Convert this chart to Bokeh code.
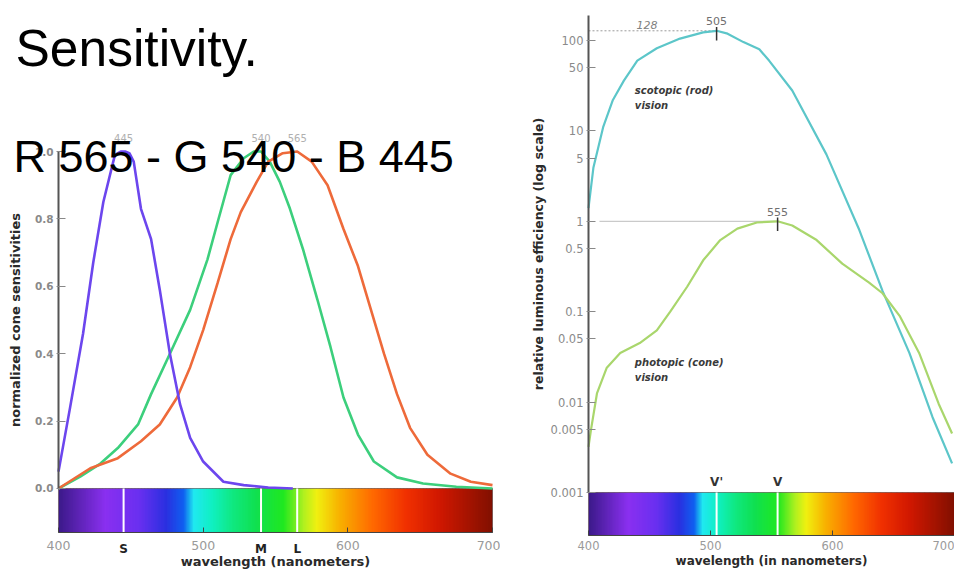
import numpy as np
from bokeh.plotting import figure
from bokeh.layouts import row
from bokeh.models import Range1d, Label, FixedTicker
from bokeh.embed import file_html
from bokeh.resources import INLINE

# ---------------- data: left chart (normalized cone sensitivities) ----------------
s_wl = [400, 408, 417, 424, 431, 439, 443, 446, 449, 452, 457, 464, 470, 477, 484, 491, 500, 514, 528, 545, 562]
s_val = [0.05, 0.24, 0.46, 0.67, 0.85, 0.99, 1.0, 1.0, 0.995, 0.97, 0.83, 0.74, 0.59, 0.40, 0.25, 0.15, 0.08, 0.02, 0.01, 0.003, 0.0]

m_wl = [400, 415, 429, 441, 455, 464, 477, 491, 503, 510, 519, 528, 535, 540, 546, 553, 560, 569, 579, 588, 597, 607, 618, 634, 652, 675, 700]
m_val = [0.0, 0.035, 0.074, 0.12, 0.19, 0.28, 0.40, 0.53, 0.68, 0.79, 0.93, 0.98, 1.0, 1.0, 0.97, 0.91, 0.83, 0.71, 0.56, 0.42, 0.27, 0.16, 0.08, 0.033, 0.015, 0.005, 0.0]

l_wl = [400, 422, 441, 457, 470, 482, 491, 500, 510, 519, 526, 537, 545, 555, 565, 575, 586, 597, 607, 616, 625, 634, 643, 655, 671, 685, 700]
l_val = [0.0, 0.06, 0.09, 0.14, 0.19, 0.27, 0.36, 0.47, 0.61, 0.74, 0.82, 0.91, 0.97, 0.995, 1.0, 0.97, 0.90, 0.77, 0.66, 0.53, 0.40, 0.28, 0.18, 0.10, 0.044, 0.02, 0.01]

cone_ticks = [0.0, 0.2, 0.4, 0.6, 0.8, 1.0]
cone_tick_labels = ["0.0", "0.2", "0.4", "0.6", "0.8", "1.0"]
cone_peaks = [445, 540, 565]
cone_names = ["S", "M", "L"]
wl_ticks = [400, 500, 600, 700]

# ---------------- data: right chart (relative luminous efficiency) ----------------
rod_wl = [400, 404, 412, 420, 429, 440, 456, 475, 494, 505, 514, 527, 540, 548, 567, 595, 622, 641, 663, 682, 698]
rod_val = [1.4, 3.9, 11, 22, 36, 60, 82, 105, 123, 128, 119, 96, 80, 60, 28, 5.5, 0.8, 0.17, 0.035, 0.0068, 0.0021]

pho_wl = [400, 402, 407, 415, 426, 442, 456, 467, 481, 494, 508, 522, 538, 555, 567, 587, 608, 630, 641, 655, 671, 687, 698]
pho_val = [0.0032, 0.0049, 0.0126, 0.024, 0.035, 0.045, 0.062, 0.10, 0.19, 0.37, 0.62, 0.83, 0.97, 1.0, 0.9, 0.62, 0.34, 0.21, 0.16, 0.09, 0.035, 0.0096, 0.0045]

lum_ticks = [0.001, 0.005, 0.01, 0.05, 0.1, 0.5, 1, 5, 10, 50, 100]
lum_tick_labels = ["0.001", "0.005", "0.01", "0.05", "0.1", "0.5", "1", "5", "10", "50", "100"]
lum_peak_wl = [505, 555]
lum_peak_val = [128, 1.0]
lum_names = ["V'", "V"]

# spectrum colour stops (wavelength, colour)
spec_wl = [400, 432, 455, 474, 486, 493, 506, 520, 536, 555, 569, 578, 594, 617, 640, 663, 700]
spec_col = ["#3c1a8a", "#8a30f0", "#6a30f0", "#2a30e0", "#1060f0", "#20e8f0", "#10f0c0", "#10e880",
            "#10e050", "#20e820", "#b0f020", "#f0f010", "#f8b000", "#ff6800", "#f03000", "#d01800", "#801000"]

DV = "DejaVu Sans"

# layout (ranges chosen so the frame fills each canvas; axes are pinned with fixed_location)
LEFT_BAR_BOTTOM = -0.1306
RIGHT_BAR_BOTTOM = 10 ** -3.4757


def spectrum_colours(grid):
    rgb = np.array([[int(c[i:i + 2], 16) for i in (1, 3, 5)] for c in spec_col], dtype=float)
    out = []
    for w in grid:
        r, g, b = (int(round(np.interp(w, spec_wl, rgb[:, k]))) for k in range(3))
        out.append("#%02x%02x%02x" % (r, g, b))
    return out


def draw_spectrum(p, bottom, top, marks):
    grid = np.arange(400, 700, 1.0)
    cols = spectrum_colours(grid)
    p.quad(left=grid, right=np.minimum(grid + 1.8, 700), bottom=bottom, top=top,
           fill_color=cols, line_color=None)
    p.quad(left=[400], right=[700], bottom=[bottom], top=[top], fill_color=None,
           line_color="#5a4a4a", line_alpha=0.6, line_width=1)
    p.segment(x0=marks, x1=marks, y0=[bottom] * len(marks), y1=[top] * len(marks),
              line_color="white", line_width=2)


def style_xaxis(ax, loc, label, label_size, tick_size, tick_standoff):
    ax.fixed_location = loc
    ax.ticker = FixedTicker(ticks=wl_ticks)
    ax.bounds = (400, 700)
    ax.major_tick_in = 5
    ax.major_tick_out = 0
    ax.minor_tick_line_color = None
    ax.axis_line_color = "#444444"
    ax.major_tick_line_color = "#444444"
    ax.major_label_text_font = DV
    ax.major_label_text_font_size = tick_size
    ax.major_label_text_color = "#9a9a9a"
    ax.major_label_standoff = tick_standoff
    ax.axis_label = label
    ax.axis_label_text_font = DV
    ax.axis_label_text_font_size = label_size
    ax.axis_label_text_font_style = "bold"
    ax.axis_label_text_color = "#2a2a2a"
    ax.axis_label_standoff = 0


def style_yaxis(ax, bounds, ticks, labels, tick_size, tick_style, label, label_size, label_standoff):
    ax.fixed_location = 400
    ax.bounds = bounds
    ax.ticker = FixedTicker(ticks=ticks)
    ax.major_label_overrides = dict(zip(ticks, labels))
    ax.minor_tick_line_color = None
    ax.major_tick_in = 7
    ax.major_tick_out = 2
    ax.axis_line_color = "#555555"
    ax.axis_line_width = 2
    ax.major_tick_line_color = "#888888"
    ax.major_label_text_font = DV
    ax.major_label_text_font_size = tick_size
    ax.major_label_text_font_style = tick_style
    ax.major_label_text_color = "#8a8a8a"
    ax.major_label_standoff = 3
    ax.axis_label = label
    ax.axis_label_text_font = DV
    ax.axis_label_text_font_size = label_size
    ax.axis_label_text_font_style = "bold"
    ax.axis_label_text_color = "#2a2a2a"
    ax.axis_label_standoff = label_standoff


# ================= left figure =================
p1 = figure(width=500, height=572, x_range=Range1d(359.91, 705.53), y_range=Range1d(-0.2493, 1.4481),
            output_backend="svg", toolbar_location=None,
            min_border_left=0, min_border_right=0, min_border_top=0, min_border_bottom=0)
p1.outline_line_color = None
p1.grid.visible = False

draw_spectrum(p1, LEFT_BAR_BOTTOM, 0.0, cone_peaks)

p1.line(m_wl, m_val, line_color="#3ccf7c", line_width=2.6)
p1.line(l_wl, l_val, line_color="#ee6a3a", line_width=2.6)
p1.line(s_wl, s_val, line_color="#6c46ee", line_width=2.6)

style_yaxis(p1.yaxis[0], (0, 1), cone_ticks, cone_tick_labels, "10.5px", "bold",
            "normalized cone sensitivities", "13px", 9)
style_xaxis(p1.xaxis[0], LEFT_BAR_BOTTOM, "wavelength (nanometers)", "13px", "12.5px", 9)

for wl in cone_peaks:
    p1.add_layout(Label(x=wl, y=1.0, y_offset=10, text=str(wl), text_align="center",
                        text_baseline="bottom", text_font=DV, text_font_size="10px",
                        text_color="#b0b0b0"))
for wl, nm in zip(cone_peaks, cone_names):
    p1.add_layout(Label(x=wl, y=LEFT_BAR_BOTTOM, y_offset=-10, text=nm, text_align="center",
                        text_baseline="top", text_font=DV, text_font_size="12px",
                        text_font_style="bold", text_color="#222222"))

p1.add_layout(Label(x=15, y=525, x_units="screen", y_units="screen", text="Sensitivity.",
                    text_font="Liberation Sans", text_font_size="51.5px", text_color="black",
                    text_baseline="alphabetic"))
p1.add_layout(Label(x=13, y=416, x_units="screen", y_units="screen", text="R 565 - G 540 - B 445",
                    text_font="Liberation Sans", text_font_size="45px", text_color="black",
                    text_baseline="alphabetic"))

# ================= right figure =================
p2 = figure(width=454, height=572, x_range=Range1d(327.87, 700.0),
            y_range=Range1d(10 ** -3.885, 10 ** 2.4425), y_axis_type="log",
            output_backend="svg", toolbar_location=None,
            min_border_left=0, min_border_right=0, min_border_top=0, min_border_bottom=0)
p2.outline_line_color = None
p2.grid.visible = False

draw_spectrum(p2, RIGHT_BAR_BOTTOM, 0.001, lum_peak_wl)

# reference lines from the axis to the peaks
p2.line([400, lum_peak_wl[0]], [lum_peak_val[0]] * 2, line_color="#9a9a9a", line_width=1, line_dash="2 2")
p2.line([409, lum_peak_wl[1]], [lum_peak_val[1]] * 2, line_color="#bdbdbd", line_width=1)

p2.line(rod_wl, rod_val, line_color="#5cc6c9", line_width=2.2)
p2.line(pho_wl, pho_val, line_color="#a9d66c", line_width=2.2)

# peak tick marks
p2.segment(x0=lum_peak_wl, x1=lum_peak_wl,
           y0=[v / 1.28 for v in lum_peak_val], y1=[v * 1.1 for v in lum_peak_val],
           line_color="#333333", line_width=1.5)

for wl, v in zip(lum_peak_wl, lum_peak_val):
    p2.add_layout(Label(x=wl, y=v * 1.1, y_offset=2, text=str(wl), text_align="center",
                        text_baseline="bottom", text_font=DV, text_font_size="11px",
                        text_color="#707070"))
p2.add_layout(Label(x=448, y=lum_peak_val[0], y_offset=2, text=str(lum_peak_val[0]), text_align="center",
                    text_baseline="bottom", text_font=DV, text_font_size="11px",
                    text_font_style="italic", text_color="#808080"))
for wl, nm in zip(lum_peak_wl, lum_names):
    p2.add_layout(Label(x=wl, y=0.001, y_offset=3, text=nm, text_align="center",
                        text_baseline="bottom", text_font=DV, text_font_size="12px",
                        text_font_style="bold", text_color="#333333"))

notes = [("scotopic (rod)", 438, 28.0), ("vision", 438, 19.1),
         ("photopic (cone)", 438, 0.0274), ("vision", 438, 0.0187)]
for t, x, y in notes:
    p2.add_layout(Label(x=x, y=y, text=t, text_align="left", text_baseline="middle",
                        text_font=DV, text_font_size="10px", text_font_style="bold italic",
                        text_color="#3a3a3a"))

style_yaxis(p2.yaxis[0], (0.001, 190), lum_ticks, lum_tick_labels, "11.5px", "normal",
            "relative luminous efficiency (log scale)", "12.5px", 2)
style_xaxis(p2.xaxis[0], RIGHT_BAR_BOTTOM, "wavelength (in nanometers)", "12px", "11.5px", 6)

layout = row(p1, p2)
open("out.html", "w").write(file_html(layout, INLINE))
